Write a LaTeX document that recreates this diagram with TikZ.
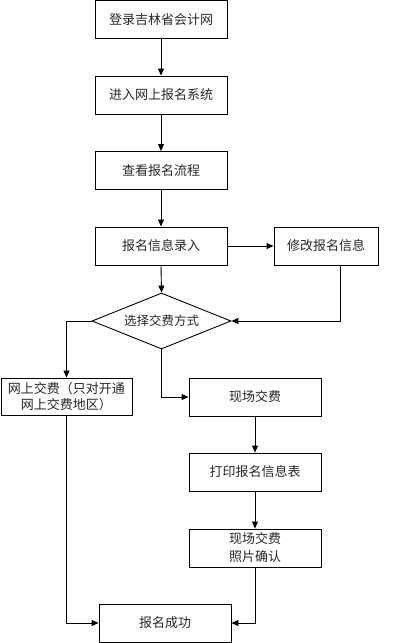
\documentclass[tikz,border=0pt]{standalone}
\usepackage{fontspec}
\setmainfont{Noto Sans CJK SC}
\usetikzlibrary{arrows.meta,shapes.geometric}
\begin{document}
\begin{tikzpicture}[x=1pt,y=-1pt,
  box/.style={draw,line width=0.9pt,rectangle,minimum width=132pt,minimum height=38pt,inner sep=1pt,font=\fontsize{13}{16}\selectfont,text=black!85,align=center},
  conn/.style={line width=0.9pt,-{Triangle[length=7pt,width=6pt]}}]
\useasboundingbox (0,0) rectangle (407,643);
\node[box] (b1) at (161,19.5) {登录吉林省会计网};
\node[box] (b2) at (161,95) {进入网上报名系统};
\node[box] (b3) at (161,170.5) {查看报名流程};
\node[box] (b4) at (161,246) {报名信息录入};
\node[box,minimum width=104pt] (mod) at (326,246) {修改报名信息};
\node[draw,line width=0.9pt,diamond,minimum width=139pt,minimum height=56pt,inner sep=0pt,aspect=2.5,font=\fontsize{12.5}{15}\selectfont,text=black!85] (dia) at (161.5,321) {选择交费方式};
\node[box,minimum width=131pt,minimum height=37pt] (online) at (66.5,396.5) {网上交费（只对开通\\网上交费地区）};
\node[box] (onsite) at (255,397) {现场交费};
\node[box] (print) at (255,472) {打印报名信息表};
\node[box,font=\fontsize{13}{18}\selectfont] (photo) at (255,548) {现场交费\\照片确认};
\node[box] (ok) at (165,623) {报名成功};
\draw[conn] (b1.south) -- (b2.north);
\draw[conn] (b2.south) -- (b3.north);
\draw[conn] (b3.south) -- (b4.north);
\draw[conn] (b4.south) -- (dia.north);
\draw[conn] (b4.east) -- (mod.west);
\draw[conn] ([xshift=14pt]mod.south) |- (dia.east);
\draw[conn] (dia.west) -| (online.north);
\draw[conn] (dia.south) |- (onsite.west);
\draw[conn] (onsite.south) -- (print.north);
\draw[conn] (print.south) -- (photo.north);
\draw[conn] (online.south) |- (ok.west);
\draw[conn] (photo.south) |- (ok.east);
\end{tikzpicture}
\end{document}
